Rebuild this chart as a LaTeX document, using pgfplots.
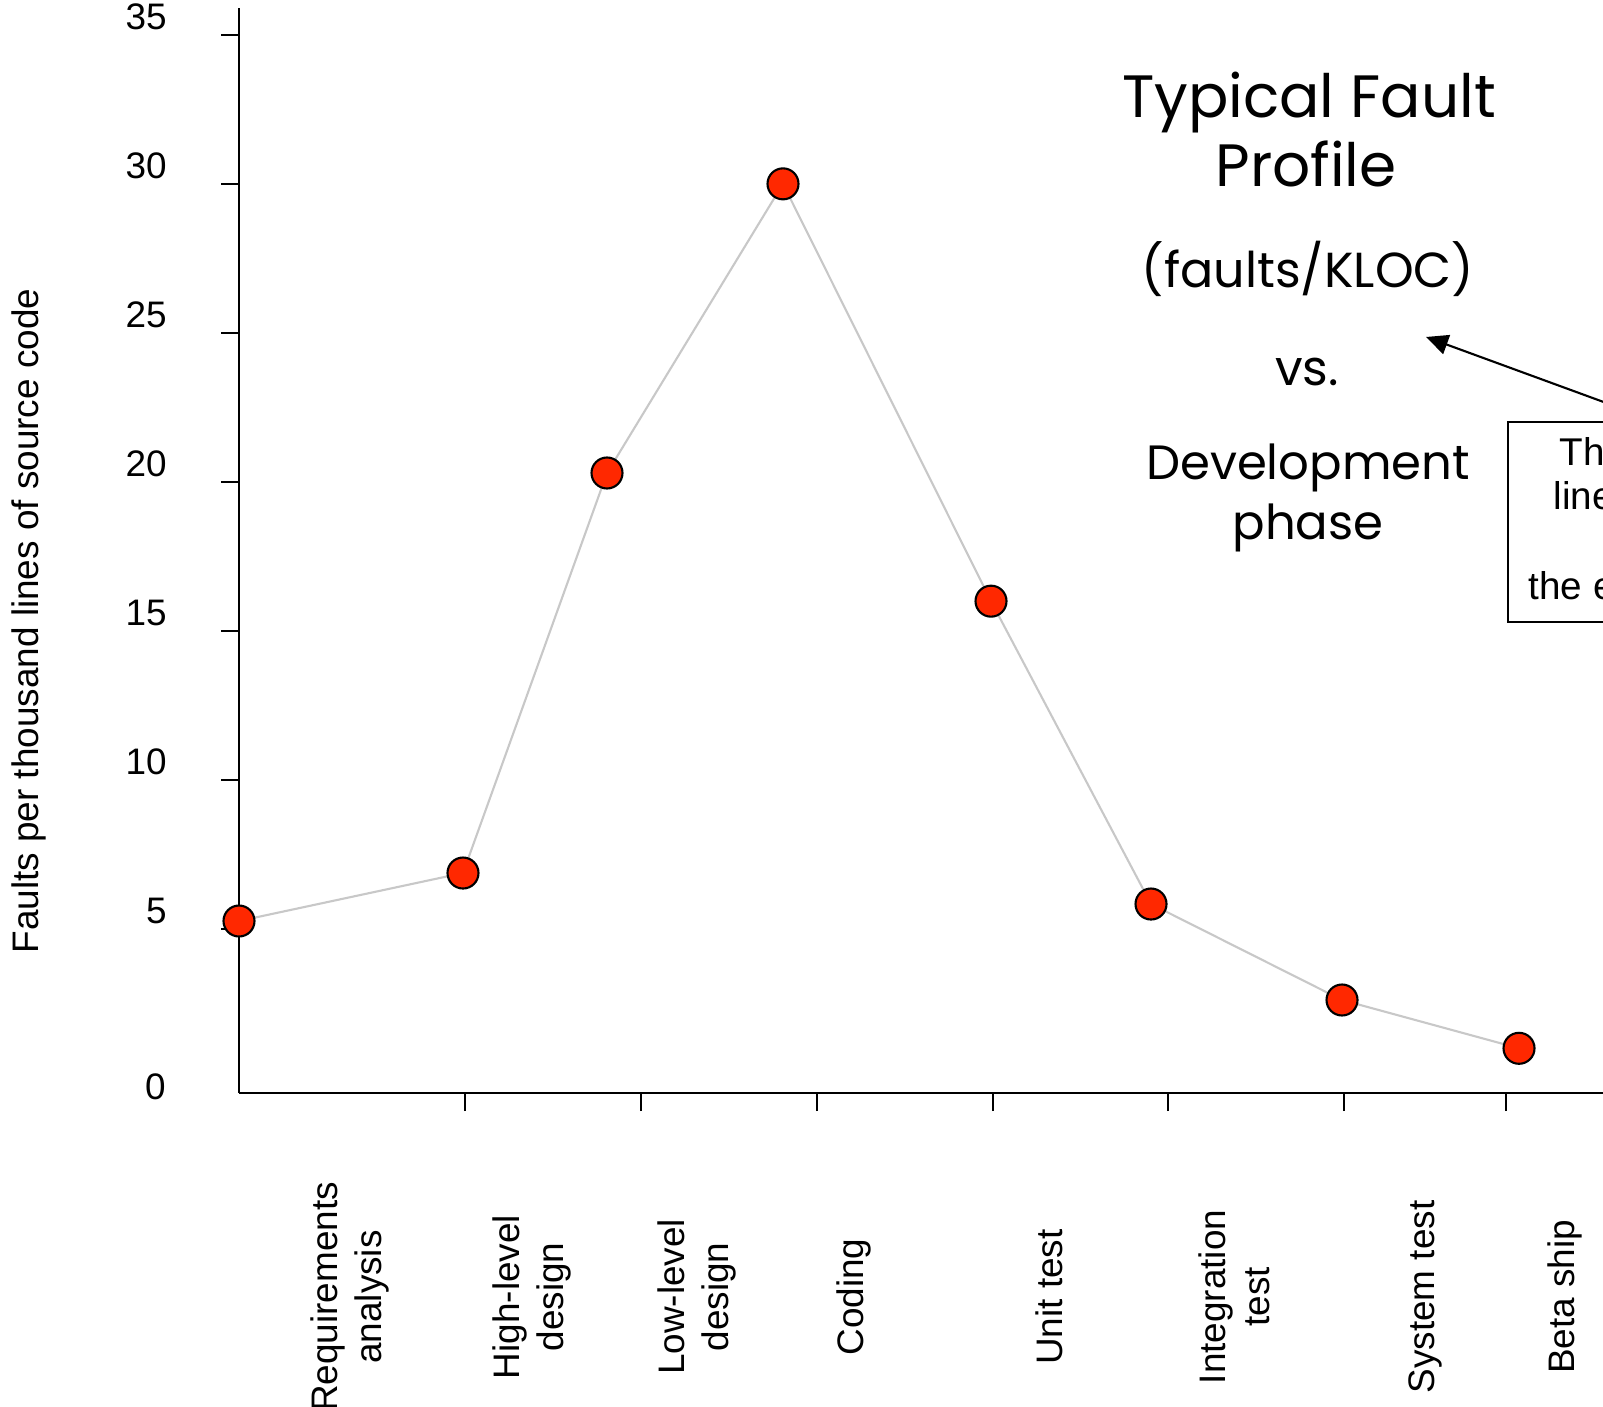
\documentclass[border=0pt]{standalone}
\usepackage{fontspec}
\setmainfont{Liberation Sans}
\newfontfamily\comic{Poppins}
\usepackage{pgfplots}
\pgfplotsset{compat=1.18}
\usetikzlibrary{arrows.meta}
\definecolor{dotred}{RGB}{255,40,0}
\definecolor{linegray}{RGB}{200,200,200}
\begin{document}
\begin{tikzpicture}
\useasboundingbox (0,0) rectangle (16.03,-14.07);
\clip (0,0) rectangle (16.03,-14.07);
\begin{axis}[
    at={(2.39cm,-10.93cm)}, anchor=south west,
    scale only axis, width=14.61cm, height=10.85cm,
    xmin=239, xmax=1700, ymin=-0.5, ymax=35.9,
    axis lines=left, axis line style={-, line width=0.6pt},
    clip=false,
    tick align=outside, major tick length=1.8mm,
    tick style={black, line width=0.6pt},
    /pgf/number format/assume math mode=true,
    tick label style={font=\fontsize{10.5}{12.5}\selectfont},
    ytick={5,10,...,35},
    yticklabel style={xshift=-4.2mm, yshift=1.8mm},
    extra y ticks={0},
    extra y tick style={major tick length=0pt,
        yticklabel style={xshift=-1.9mm, yshift=-2.65mm}},
    xtick={465,641,817,993,1168,1344,1506}, xticklabels={},
    extra x ticks={350,532,697,854,1049,1234,1425,1565},
    extra x tick labels={Requirements\\analysis, High-level\\design, Low-level\\design, Coding, Unit test, Integration\\test, System test, Beta ship},
    extra x tick style={major tick length=0pt,
        xticklabel style={yshift=-20.4mm, rotate=90, anchor=center, align=center}},
    ylabel={Faults per thousand lines of source code},
    ylabel style={at={(axis description cs:-0.1437,0.435)}, anchor=center,
        font=\fontsize{10.5}{12.5}\selectfont},
]
% faults per KLOC, placed at the phase positions of the original drawing
\addplot[linegray, line width=0.6pt, mark=*, mark size=1.55mm,
    mark options={fill=dotred, draw=black, line width=0.6pt}] coordinates {
    (239,5.27) (463,6.88) (607,20.3) (783,30.0)
    (991,16.0) (1151,5.84) (1342,2.62) (1519,1.0)
};
\end{axis}

% title block
\begin{scope}[every node/.style={anchor=base, inner sep=0pt}]
\node[font=\comic\fontsize{17}{20}\selectfont] at (13.09,-1.18) {Typical Fault};
\node[font=\comic\fontsize{17}{20}\selectfont] at (13.06,-1.87) {Profile};
\node[font=\comic\fontsize{14}{17}\selectfont] at (13.08,-2.88) {(faults/KLOC)};
\node[font=\comic\fontsize{14}{17}\selectfont] at (13.07,-3.86) {vs.};
\node[font=\comic\fontsize{13.7}{17}\selectfont] at (13.08,-4.80) {Development};
\node[font=\comic\fontsize{13.7}{17}\selectfont] at (13.08,-5.40) {phase};
\end{scope}

% annotation box, cut at the right edge
\draw[line width=0.5pt] (15.08,-4.22) rectangle (17,-6.22);
\begin{scope}[every node/.style={anchor=base west, inner sep=0pt, font=\fontsize{11}{13}\selectfont}]
\node at (15.59,-4.66) {Th};
\node at (15.53,-5.10) {line};
\node at (15.28,-6.00) {the e};
\end{scope}
\draw[line width=0.6pt, -{Triangle[length=2.2mm,width=2mm]}] (16.5,-4.19) -- (14.26,-3.37);
\end{tikzpicture}
\end{document}
